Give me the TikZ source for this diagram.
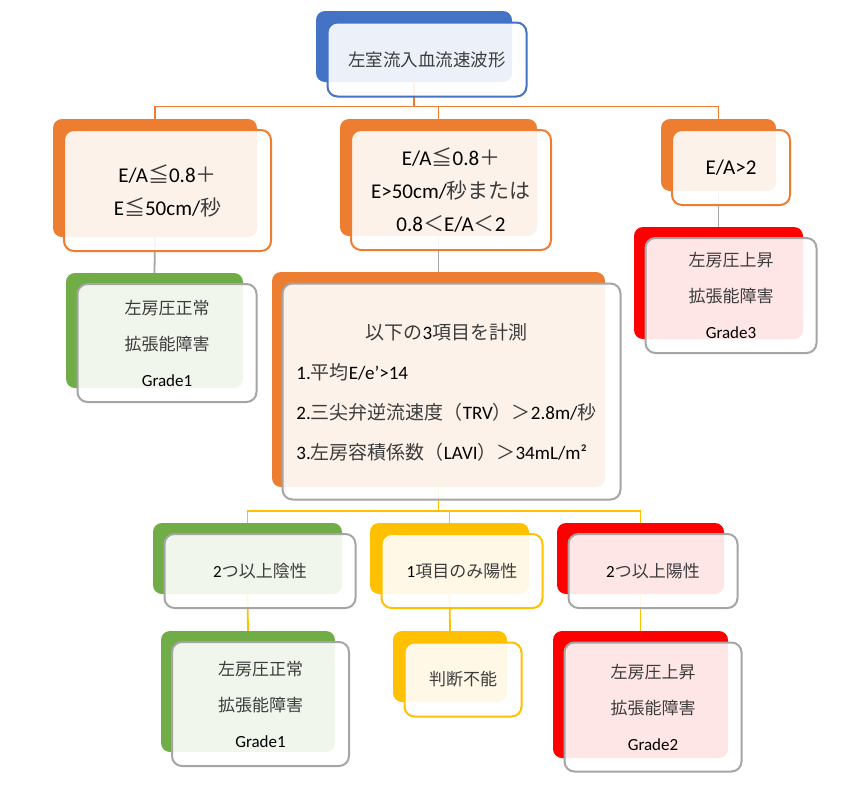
\documentclass[tikz,border=0pt]{standalone}
\usepackage{fontspec}
\setmainfont{Carlito}
\newfontfamily\jpfont{Noto Sans CJK JP}
\definecolor{smblue}{RGB}{68,114,196}
\definecolor{smorange}{RGB}{237,125,49}
\definecolor{smgreen}{RGB}{112,173,71}
\definecolor{smgold}{RGB}{255,192,0}
\definecolor{smred}{RGB}{255,0,0}
\definecolor{smgray}{RGB}{165,165,165}
\definecolor{smtext}{RGB}{60,60,60}
\newcommand{\jp}[1]{{\jpfont\color{smtext}#1}}
\usetikzlibrary{positioning,calc}

\begin{document}
\begin{tikzpicture}[x=1pt, y=-1pt,
    backbox/.style={fill=#1, rounded corners=9pt, inner sep=0pt},
    frontbox/.style={draw=#1, line width=2pt, fill=white, fill opacity=0.9,
      text opacity=1, rounded corners=10pt, inner sep=0pt, align=center},
    link/.style={draw=#1, line width=1.8pt}]
    \useasboundingbox (0,0) rectangle (854,793);

    % Back plates
    \node[backbox=smblue, minimum width=196pt, minimum height=71pt] (wave) at (414,46.5) {};
    \node[backbox=smorange, minimum width=204pt, minimum height=118pt] (ea1) at (155,178) {};
    \node[backbox=smorange, minimum width=197pt, minimum height=117pt] (ea2) at (438.5,177.5) {};
    \node[backbox=smorange, minimum width=115pt, minimum height=72pt] (ea3) at (718.5,155) {};
    \node[backbox=smgreen, minimum width=177pt, minimum height=115pt] (g1) at (154.5,330.5) {};
    \node[backbox=smorange, minimum width=333pt, minimum height=215pt] (meas) at (438.5,379.5) {};
    \node[backbox=smred, minimum width=169pt, minimum height=112pt] (g3) at (718.5,283) {};
    \node[backbox=smgreen, minimum width=189pt, minimum height=71pt] (neg) at (247.5,558.5) {};
    \node[backbox=smgold, minimum width=159pt, minimum height=71pt] (one) at (449.5,558.5) {};
    \node[backbox=smred, minimum width=167pt, minimum height=71pt] (pos) at (640.5,558.5) {};
    \node[backbox=smgreen, minimum width=174pt, minimum height=121pt] (g1b) at (248,691.5) {};
    \node[backbox=smgold, minimum width=114pt, minimum height=71pt] (undet) at (450,666.5) {};
    \node[backbox=smred, minimum width=175pt, minimum height=127pt] (g2) at (640.5,694.5) {};

    % Connectors
    \coordinate (wbus) at (414,106.5);
    \draw[link=smorange] (wave.south) -- (wbus) -| (ea1.north);
    \draw[link=smorange] (wbus) -| (ea2.north);
    \draw[link=smorange] (wbus) -| (ea3.north);
    \draw[link=smgray] (ea1.south) -- (g1.north);
    \draw[link=smgray] (ea2.south) -- (meas.north);
    \draw[link=smgray] (ea3.south) -- (g3.north);
    \coordinate (mbus) at (438.5,511);
    \draw[link=smgold] (meas.south) -- (mbus) -| (neg.north);
    \draw[link=smgold] (mbus) -| (one.north);
    \draw[link=smgold] (mbus) -| (pos.north);
    \draw[link=smgold] (neg.south) -- (g1b.north);
    \draw[link=smgold] (one.south) -- (undet.north);
    \draw[link=smgold] (pos.south) -- (g2.north);

    % Front cards
    \node[frontbox=smblue, minimum width=199pt, minimum height=74pt,
      font=\fontsize{17.5pt}{21pt}\selectfont] (wavef) at ([shift={(13,13)}]wave)
      {\jp{左室流入血流速波形}};
    \node[frontbox=smorange, minimum width=207pt, minimum height=121pt,
      font=\fontsize{21pt}{33pt}\selectfont] (ea1f) at ([shift={(12.5,12.5)}]ea1)
      {E/A\jp{≦}0.8\jp{＋}\\E\jp{≦}50cm/\jp{秒}};
    \node[frontbox=smorange, minimum width=200pt, minimum height=120pt,
      font=\fontsize{21pt}{33pt}\selectfont] (ea2f) at ([shift={(12.5,12.5)}]ea2)
      {E/A\jp{≦}0.8\jp{＋}\\E>50cm/\jp{秒または}\\0.8\jp{＜}E/A\jp{＜}2};
    \node[frontbox=smorange, minimum width=118pt, minimum height=75pt,
      font=\fontsize{21pt}{25pt}\selectfont] (ea3f) at ([shift={(12.5,12.5)}]ea3)
      {E/A>2};
    \node[frontbox=smgray, minimum width=179pt, minimum height=118pt,
      font=\fontsize{17pt}{36pt}\selectfont] (g1f) at ([shift={(12.5,12.5)}]g1)
      {\jp{左房圧正常}\\\jp{拡張能障害}\\Grade1};
    \node[frontbox=smgray, minimum width=338pt, minimum height=216pt,
      font=\fontsize{19pt}{40pt}\selectfont] (measf) at ([shift={(13,12)}]meas)
      {\begin{tabular}{@{}l@{}}
        \multicolumn{1}{c}{\jp{以下の}3\jp{項目を計測}}\\
        1.\jp{平均}E/e’>14\\
        2.\jp{三尖弁逆流速度（}TRV\jp{）＞}2.8m/\jp{秒}\\
        3.\jp{左房容積係数（}LAVI\jp{）＞}34mL/m²
      \end{tabular}\hspace*{10pt}};
    \node[frontbox=smgray, minimum width=171pt, minimum height=115pt,
      font=\fontsize{17pt}{36pt}\selectfont] (g3f) at ([shift={(12.5,12.5)}]g3)
      {\jp{左房圧上昇}\\\jp{拡張能障害}\\Grade3};
    \node[frontbox=smgray, minimum width=191pt, minimum height=74pt,
      font=\fontsize{17pt}{21pt}\selectfont] (negf) at ([shift={(12.5,12.5)}]neg)
      {2\jp{つ以上陰性}};
    \node[frontbox=smgold, minimum width=161pt, minimum height=74pt,
      font=\fontsize{17pt}{21pt}\selectfont] (onef) at ([shift={(12.5,12.5)}]one)
      {1\jp{項目のみ陽性}};
    \node[frontbox=smgray, minimum width=169pt, minimum height=74pt,
      font=\fontsize{17pt}{21pt}\selectfont] (posf) at ([shift={(12.5,12.5)}]pos)
      {2\jp{つ以上陽性}};
    \node[frontbox=smgray, minimum width=177pt, minimum height=124pt,
      font=\fontsize{17pt}{36pt}\selectfont] (g1bf) at ([shift={(12.5,12.5)}]g1b)
      {\jp{左房圧正常}\\\jp{拡張能障害}\\Grade1};
    \node[frontbox=smgold, minimum width=117pt, minimum height=74pt,
      font=\fontsize{17pt}{21pt}\selectfont] (undetf) at ([shift={(13,13)}]undet)
      {\jp{判断不能}};
    \node[frontbox=smgray, minimum width=177pt, minimum height=129pt,
      font=\fontsize{17pt}{36pt}\selectfont] (g2f) at ([shift={(12.5,12.5)}]g2)
      {\jp{左房圧上昇}\\\jp{拡張能障害}\\Grade2};
\end{tikzpicture}
\end{document}
